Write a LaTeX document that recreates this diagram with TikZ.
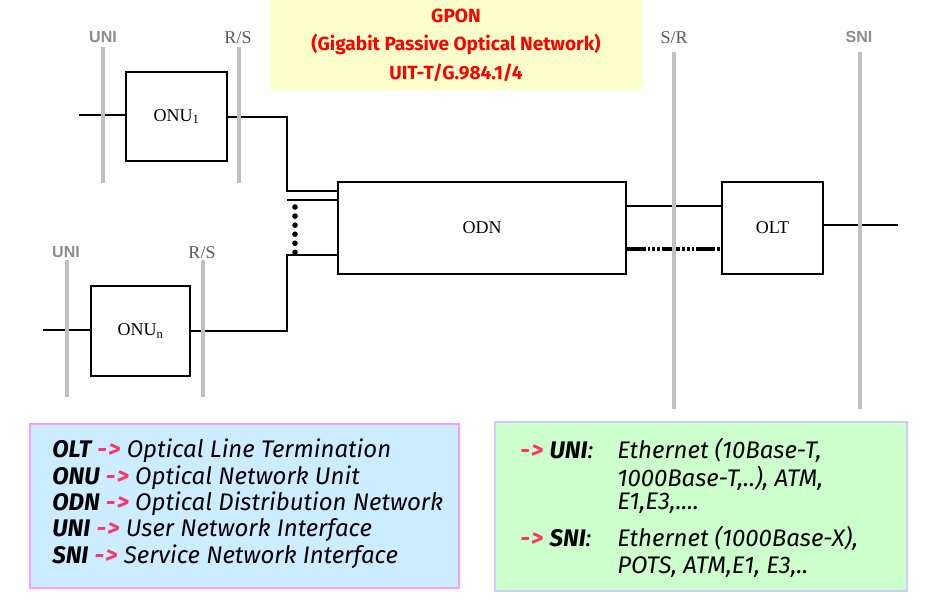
\documentclass[tikz,border=0pt]{standalone}
\usepackage{fontspec}
\setmainfont{Liberation Serif}
\newfontfamily\comicfont{Fira Sans}
\newfontfamily\labelfont{Liberation Sans}
\usetikzlibrary{positioning,calc}

\definecolor{barGray}{RGB}{192,192,192}
\definecolor{labelGray}{RGB}{140,140,140}
\definecolor{refGray}{RGB}{90,90,90}
\definecolor{titleRed}{RGB}{255,0,0}
\definecolor{titleBg}{RGB}{255,255,204}
\definecolor{arrowRed}{RGB}{255,51,102}
\definecolor{blueBg}{RGB}{204,236,255}
\definecolor{blueEdge}{RGB}{255,153,255}
\definecolor{greenBg}{RGB}{204,255,204}
\definecolor{greenEdge}{RGB}{204,204,255}

\newcommand{\legarrow}{\textcolor{arrowRed}{\bfseries -\kern1pt>}}

\tikzset{
  unit/.style={draw, line width=1.7pt, inner sep=0pt, font=\fontsize{13.5}{15}\selectfont},
  fibre/.style={line width=1.5pt},
  thinfibre/.style={line width=0.9pt},
  trunk/.style={line width=3pt, dash pattern=on 14pt off 1.5pt on 2pt off 1.5pt on 2pt off 1.5pt on 2pt off 1.5pt},
  dots/.style={line width=4.2pt, line cap=round, dash pattern=on 0pt off 6.8pt},
  bar/.style={draw=barGray, line width=3pt},
  refpt/.style={text=refGray, inner sep=0pt, font=\fontsize{13.5}{15}\selectfont},
  iface/.style={text=labelGray, inner sep=0pt, font=\labelfont\bfseries\fontsize{12}{14}\selectfont},
  legend/.style={anchor=west, inner sep=0pt, font=\comicfont\itshape\fontsize{18}{20}\selectfont},
}

\begin{document}
\begin{tikzpicture}[x=0.75pt, y=-0.75pt]
    \useasboundingbox[fill=white] (0,0) rectangle (937,603);

    % title
    \node[fill=titleBg, minimum width=279pt, minimum height=67.5pt, align=center,
          text=titleRed, font=\comicfont\bfseries\fontsize{14.3}{21.5}\selectfont] (title) at (456,45)
          {GPON\\(Gigabit Passive Optical Network)\\UIT-T/G.984.1/4};

    % units
    \node[unit, minimum width=75.75pt, minimum height=66.75pt] (onu1) at (176.5,116.5) {ONU\textsubscript{1}};
    \node[unit, minimum width=74.25pt, minimum height=67.5pt] (onun) at (140.5,331) {ONU\textsubscript{n}};
    \node[unit, minimum width=216pt, minimum height=69pt] (odn) at (482,228) {ODN};
    \node[unit, minimum width=75.75pt, minimum height=69pt] (olt) at (772.5,228) {OLT};

    \coordinate (userA) at (79,115);
    \coordinate (userB) at (43,330);
    \coordinate (core) at (898,225);
    \coordinate (jA) at (287,191);
    \coordinate (jB) at (287,200);
    \coordinate (jC) at (287,255);

    % fibres
    \draw[fibre] (userA) -- (userA -| onu1.west);
    \draw[fibre] (onu1.east) -| (jA) -- (jA -| odn.west);
    \draw[thinfibre] (jB) -- (jB -| odn.west);
    \draw[fibre] (jC -| odn.west) -- (jC) |- (onun.east);
    \draw[fibre] (userB) -- (userB -| onun.west);
    \draw[dots] (295,207) -- (295,254);
    \draw[thinfibre] ([yshift=16.5pt]odn.east) -- ([yshift=16.5pt]olt.west);
    \draw[trunk] ([yshift=-15.75pt]odn.east) -- ([yshift=-15.75pt]olt.west);
    \draw[fibre] (olt.east |- core) -- (core);

    % reference points
    \draw[bar] (103,47) -- (103,183);
    \draw[bar] (239,47) -- (239,183);
    \draw[bar] (67,260) -- (67,397);
    \draw[bar] (203,260) -- (203,397);
    \draw[bar] (674,52) -- (674,409);
    \draw[bar] (860,52) -- (860,409);
    \node[iface] (uniA) at (103,37) {UNI};
    \node[refpt] (rsA) at (238,38) {R/S};
    \node[iface] (uniB) at (66,252) {UNI};
    \node[refpt] (rsB) at (202,253) {R/S};
    \node[refpt] (sr) at (674,38) {S/R};
    \node[iface] (sni) at (859,37) {SNI};

    % legends
    \node[draw=blueEdge, fill=blueBg, line width=1.5pt, minimum width=321.75pt, minimum height=123pt] (terms) at (244.5,506) {};
    \node[draw=greenEdge, fill=greenBg, line width=1.5pt, minimum width=309pt, minimum height=126.75pt] (ifaces) at (701,506.5) {};

    \node[legend] (tOLT) at (52,451) {{\bfseries OLT} \legarrow{} Optical Line Termination};
    \node[legend] (tONU) at (52,478) {{\bfseries ONU} \legarrow{} Optical Network Unit};
    \node[legend] (tODN) at (52,504) {{\bfseries ODN} \legarrow{} Optical Distribution Network};
    \node[legend] (tUNI) at (52,530) {{\bfseries UNI} \legarrow{} User Network Interface};
    \node[legend] (tSNI) at (52,557) {{\bfseries SNI} \legarrow{} Service Network Interface};

    \node[legend] (gUNI) at (520,450) {\legarrow{} {\bfseries UNI}:};
    \node[legend] (gUNIa) at (617,450) {Ethernet (10Base-T,};
    \node[legend] (gUNIb) at (617,478) {1000Base-T,..), ATM,};
    \node[legend] (gUNIc) at (617,503) {E1,E3,....};
    \node[legend] (gSNI) at (520,538) {\legarrow{} {\bfseries SNI}:};
    \node[legend] (gSNIa) at (617,538) {Ethernet (1000Base-X),};
    \node[legend] (gSNIb) at (617,567) {POTS, ATM,E1, E3,..};
\end{tikzpicture}
\end{document}
